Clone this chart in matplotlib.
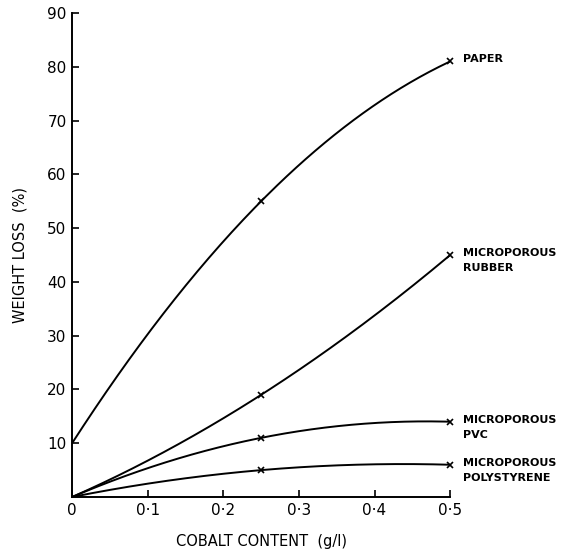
import numpy as np
import matplotlib
matplotlib.use("Agg")
import matplotlib.pyplot as plt

cobalt = [0.0, 0.25, 0.5]
paper = [10, 55, 81]
rubber = [0, 19, 45]
pvc = [0, 11, 14]
polystyrene = [0, 5, 6]
series_names = ["PAPER", "MICROPOROUS\nRUBBER", "MICROPOROUS\nPVC", "MICROPOROUS\nPOLYSTYRENE"]
x_ticks = [0, 0.1, 0.2, 0.3, 0.4, 0.5]
x_tick_labels = ["0", "0·1", "0·2", "0·3", "0·4", "0·5"]
y_ticks = [10, 20, 30, 40, 50, 60, 70, 80, 90]
y_tick_labels = ["10", "20", "30", "40", "50", "60", "70", "80", "90"]

plt.rcParams['font.family'] = ['DejaVu Sans']
fig = plt.figure(figsize=(5.72, 5.55), dpi=100)
ax = fig.add_axes([0.126, 0.1045, 0.661, 0.872])

xs = np.linspace(0, 0.5, 200)
for vals, name in zip([paper, rubber, pvc, polystyrene], series_names):
    coef = np.polyfit(cobalt, vals, 2)
    ax.plot(xs, np.polyval(coef, xs), color='black', lw=1.4)
    ax.plot(cobalt[1:], vals[1:], 'x', color='black', ms=5, mew=1.2, clip_on=False)
    ax.annotate(name, xy=(0.5, vals[-1]), xytext=(9, 5), textcoords='offset points',
                ha='left', va='top', fontsize=8, fontweight='bold', linespacing=1.6,
                annotation_clip=False)

ax.set_xlim(0, 0.5)
ax.set_ylim(0, 90)
ax.set_xticks(x_ticks)
ax.set_xticklabels(x_tick_labels, fontsize=11)
ax.set_yticks(y_ticks)
ax.set_yticklabels(y_tick_labels, fontsize=11)
ax.tick_params(direction='in', length=5, width=1.2, pad=4)
for s in ['top', 'right']:
    ax.spines[s].set_visible(False)
for s in ['left', 'bottom']:
    ax.spines[s].set_linewidth(1.4)
ax.set_xlabel("COBALT CONTENT  (g/l)", fontsize=10.5, labelpad=12)
ax.set_ylabel("WEIGHT LOSS  (%)", fontsize=10.5, labelpad=14)
fig.savefig("out.png", dpi=100)
